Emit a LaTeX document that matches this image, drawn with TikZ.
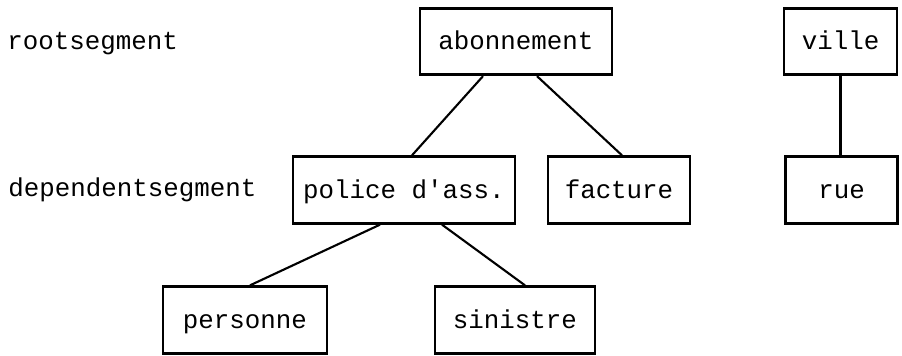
\documentclass[tikz,border=0pt]{standalone}
\usepackage{fontspec}
\setmonofont{Liberation Mono}
\usetikzlibrary{positioning}

\begin{document}
\begin{tikzpicture}[seg/.style={draw, line width=1.6pt, minimum height=1.33cm, inner sep=0pt, text height=11pt, text depth=1.5pt, font=\ttfamily\fontsize{14.7}{17}\selectfont},
    lbl/.style={anchor=base west, inner sep=0pt, font=\ttfamily\fontsize{14.7}{17}\selectfont},
    link/.style={line width=1.2pt}]
        \useasboundingbox (0,0) rectangle (18.04,7.10);
        % levels
        \node[lbl] (rootlbl) at (0.14,6.10) {rootsegment};
        \node[lbl] (deplbl) at (0.16,3.16) {dependentsegment};
        % tree abonnement
        \node[seg, minimum width=3.84cm] (abon) at (10.32,6.27) {abonnement};
        \node[seg, minimum width=4.44cm] (police) at (8.08,3.30) {police d'ass.};
        \node[seg, minimum width=2.84cm] (facture) at (12.38,3.30) {facture};
        \node[seg, minimum width=3.28cm] (pers) at (4.90,0.70) {personne};
        \node[seg, minimum width=3.20cm] (sin) at (10.30,0.70) {sinistre};
        \draw[link] ([xshift=-0.66cm]abon.south) -- ([xshift=0.16cm]police.north);
        \draw[link] ([xshift=0.42cm]abon.south) -- ([xshift=0.06cm]facture.north);
        \draw[link] ([xshift=-0.48cm]police.south) -- ([xshift=0.10cm]pers.north);
        \draw[link] ([xshift=0.76cm]police.south) -- ([xshift=0.20cm]sin.north);
        % tree ville
        \node[seg, minimum width=2.26cm] (ville) at (16.81,6.27) {ville};
        \node[seg, minimum width=2.24cm] (rue) at (16.83,3.30) {rue};
        \draw[link] (ville.south) -- (ville.south |- rue.north);
\end{tikzpicture}
\end{document}
